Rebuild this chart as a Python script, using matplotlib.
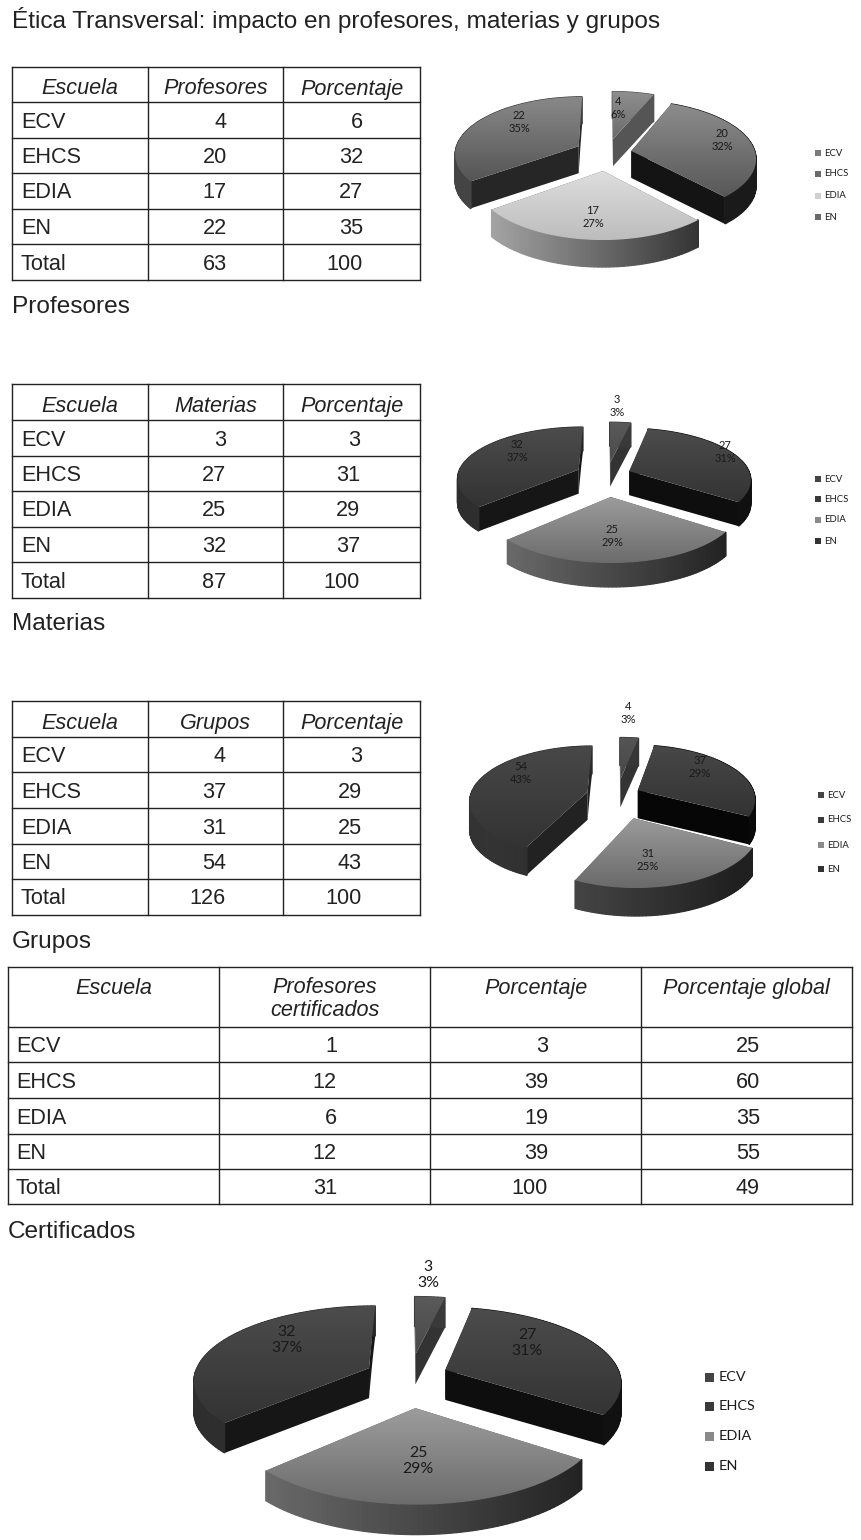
import numpy as np
import matplotlib
matplotlib.use("Agg")
import matplotlib.pyplot as plt
from matplotlib.colors import LinearSegmentedColormap, to_rgb
from matplotlib.patches import Polygon, Rectangle

W, H = 862, 1540

schools = ["ECV", "EHCS", "EDIA", "EN"]

profesores = [4, 20, 17, 22]
profesores_pct = [6, 32, 27, 35]
materias = [3, 27, 25, 32]
materias_pct = [3, 31, 29, 37]
grupos = [4, 37, 31, 54]
grupos_pct = [3, 29, 25, 43]
certificados = [1, 12, 6, 12]
certificados_pct = [3, 39, 19, 39]
certificados_global = [25, 60, 35, 55]
totals_prof = [63, 100]
totals_mat = [87, 100]
totals_gru = [126, 100]
totals_cert = [31, 100, 49]

# last pie repeats the materias numbers in the original
pie4_values = [3, 27, 25, 32]
pie4_pct = [3, 31, 29, 37]

TEXT = "#222222"
table_font = ["Liberation Sans", "DejaVu Sans"]
pie_font = ["Lato", "DejaVu Sans"]

fig = plt.figure(figsize=(W / 100, H / 100), dpi=100)
ax = fig.add_axes([0, 0, 1, 1])
helper = fig.add_axes([0, 0, 0.01, 0.01], visible=False)


def table(x_edges, y_edges, header, rows, right_edges, first_x, header_y=None):
    for x in x_edges:
        ax.plot([x, x], [y_edges[0], y_edges[-1]], color=TEXT, lw=1)
    for y in y_edges:
        ax.plot([x_edges[0], x_edges[-1]], [y, y], color=TEXT, lw=1)
    for i, h in enumerate(header):
        xc = (x_edges[i] + x_edges[i + 1]) / 2
        if "\n" in h:
            ax.text(xc, (y_edges[0] + y_edges[1]) / 2 + 2, h, ha="center", va="center",
                    style="italic", fontsize=15.6, family=table_font, color=TEXT, linespacing=1.15)
            continue
        yc = header_y if header_y else (y_edges[0] + y_edges[1]) / 2 + 2
        ax.text(xc, yc, h, ha="center", va="center_baseline", style="italic", fontsize=15.6,
                family=table_font, color=TEXT)
    for r, row in enumerate(rows):
        yc = (y_edges[r + 1] + y_edges[r + 2]) / 2 + 2
        ax.text(first_x, yc, row[0], ha="left", va="center", fontsize=15.6,
                family=table_font, color=TEXT)
        for j, v in enumerate(row[1:]):
            ax.text(right_edges[j], yc, str(v), ha="right", va="center", fontsize=15.6,
                    family=table_font, color=TEXT)


def caption(x, y, s):
    ax.text(x, y, s, ha="left", va="center", fontsize=17.6, family=table_font, color=TEXT)


def mix(c1, c2, t):
    a, b = np.array(to_rgb(c1)), np.array(to_rgb(c2))
    return tuple(a + (b - a) * t)


def pie3d(values, pct, cx, cy, rx, ry, k, depth, explode, tops, rims, faces,
          label_xy, font, legend_x, legend_ys, legend_cols, legend_font, box):
    wedges, _ = helper.pie(values, explode=explode, startangle=90, counterclock=False)

    def project(px, py):
        s = 1 - k * py
        return cx + rx * px * s, cy - ry * py * s

    # back to front: EN, ECV, EHCS, EDIA
    for i in [3, 0, 1, 2]:
        w = wedges[i]
        wx, wy = w.center
        th = np.radians(np.arange(w.theta1, w.theta2 + 0.5, 1.5))
        th = np.append(th, np.radians(w.theta2))
        ox = wx + w.r * np.cos(th)
        oy = wy + w.r * np.sin(th)
        sx, sy = project(ox, oy)
        ax_, ay_ = project(wx, wy)

        # straight cut faces
        for e in [0, -1]:
            t = np.linspace(0, 1, 12)
            ex, ey = project(wx + (ox[e] - wx) * t, wy + (oy[e] - wy) * t)
            pts = np.r_[np.c_[ex, ey], np.c_[ex, ey + depth][::-1]]
            ax.add_patch(Polygon(pts, closed=True, fc=faces[i], ec="none", zorder=2))

        # outer rim, shaded from left to right
        for j in range(len(th) - 1):
            t = np.clip((sx[j] - (cx - rx)) / (2 * rx), 0, 1)
            quad = [(sx[j], sy[j]), (sx[j + 1], sy[j + 1]),
                    (sx[j + 1], sy[j + 1] + depth), (sx[j], sy[j] + depth)]
            c = mix(rims[i][0], rims[i][1], t)
            ax.add_patch(Polygon(quad, closed=True, fc=c, ec=c, lw=0.9, zorder=2))

        # top surface with vertical gradient
        pts = np.r_[[[ax_, ay_]], np.c_[sx, sy]]
        clip = Polygon(pts, closed=True, fc="none", ec="none", transform=ax.transData)
        ax.add_patch(clip)
        cmap = LinearSegmentedColormap.from_list("t", tops[i])
        im = ax.imshow(np.linspace(0, 1, 64).reshape(-1, 1), cmap=cmap, aspect="auto",
                       extent=(pts[:, 0].min(), pts[:, 0].max(), pts[:, 1].max(), pts[:, 1].min()),
                       origin="upper", zorder=3, interpolation="bilinear")
        im.set_clip_path(clip)

    for i in range(4):
        ax.text(label_xy[i][0], label_xy[i][1], "%d\n%d%%" % (values[i], pct[i]), ha="center",
                va="center", fontsize=font, family=pie_font, color="#1a1a1a", zorder=5,
                linespacing=1.15)
        ax.add_patch(Rectangle((legend_x, legend_ys[i] - box / 2), box, box,
                               fc=legend_cols[i], ec="none", zorder=5))
        ax.text(legend_x + box * 1.5, legend_ys[i], schools[i], ha="left", va="center",
                fontsize=legend_font, family=pie_font, color="#1a1a1a")


caption(12, 20, "Ética Transversal: impacto en profesores, materias y grupos")

table([12, 148, 283, 420], [67, 102, 138, 173, 209, 244, 280],
      ["Escuela", "Profesores", "Porcentaje"],
      [[s, a, b] for s, a, b in zip(schools, profesores, profesores_pct)] + [["Total"] + totals_prof],
      [227, 363], 21)
caption(12, 307, "Profesores")

table([12, 148, 283, 420], [384, 420, 456, 491, 527, 562, 598],
      ["Escuela", "Materias", "Porcentaje"],
      [[s, a, b] for s, a, b in zip(schools, materias, materias_pct)] + [["Total"] + totals_mat],
      [226, 360], 21)
caption(12, 624, "Materias")

table([12, 148, 283, 420], [701, 737, 772, 808, 844, 879, 915],
      ["Escuela", "Grupos", "Porcentaje"],
      [[s, a, b] for s, a, b in zip(schools, grupos, grupos_pct)] + [["Total"] + totals_gru],
      [226, 362], 21)
caption(12, 942, "Grupos")

table([8, 219, 430, 641, 852], [967, 1027, 1062, 1098, 1134, 1169, 1204],
      ["Escuela", "Profesores\ncertificados", "Porcentaje", "Porcentaje global"],
      [[s, a, b, c] for s, a, b, c in zip(schools, certificados, certificados_pct, certificados_global)]
      + [["Total"] + totals_cert],
      [337, 548, 760], 16, header_y=986)
caption(8, 1232, "Certificados")

pie3d(profesores, profesores_pct, 607, 153, 124, 58, 0.12, 27, [0.25, 0.2, 0.3, 0.26],
      [["#8e8e8e", "#6c6c6c"], ["#8c8c8c", "#585858"], ["#dedede", "#bdbdbd"], ["#888888", "#555555"]],
      [["#555555", "#555555"], ["#1a1a1a", "#1a1a1a"], ["#a8a8a8", "#222222"], ["#444444", "#333333"]],
      ["#555555", "#141414", "#555555", "#262626"],
      [(618, 108), (722, 140), (593, 217), (519, 122)], 8,
      815, [153, 174, 196, 217], ["#7a7a7a", "#6a6a6a", "#d0d0d0", "#6a6a6a"], 6.8, 6)

pie3d(materias, materias_pct, 607, 475, 121, 52, 0.15, 24, [0.25, 0.2, 0.4, 0.26],
      [["#5a5a5a", "#4a4a4a"], ["#4c4c4c", "#343434"], ["#9c9c9c", "#6c6c6c"], ["#4c4c4c", "#333333"]],
      [["#444444", "#333333"], ["#111111", "#111111"], ["#707070", "#222222"], ["#2e2e2e", "#1e1e1e"]],
      ["#333333", "#0e0e0e", "#444444", "#161616"],
      [(617, 406), (725, 452), (612, 536), (517, 451)], 8,
      815, [479, 499, 520, 541], ["#444444", "#3a3a3a", "#8a8a8a", "#333333"], 6.8, 6)

pie3d(grupos, grupos_pct, 617, 795, 117, 55, 0.15, 28, [0.3, 0.2, 0.42, 0.26],
      [["#555555", "#484848"], ["#484848", "#333333"], ["#9a9a9a", "#6a6a6a"], ["#484848", "#333333"]],
      [["#3c3c3c", "#333333"], ["#0a0a0a", "#0a0a0a"], ["#555555", "#202020"], ["#333333", "#1a1a1a"]],
      ["#333333", "#060606", "#444444", "#222222"],
      [(628, 713), (700, 767), (648, 860), (521, 773)], 8.2,
      818, [795, 820, 845, 869], ["#444444", "#3a3a3a", "#8a8a8a", "#333333"], 6.8, 6)

pie3d(pie4_values, pie4_pct, 410, 1376, 175, 76, 0.15, 30, [0.3, 0.22, 0.4, 0.26],
      [["#5a5a5a", "#4a4a4a"], ["#4c4c4c", "#343434"], ["#9c9c9c", "#6c6c6c"], ["#4c4c4c", "#333333"]],
      [["#444444", "#333333"], ["#111111", "#111111"], ["#707070", "#222222"], ["#2e2e2e", "#1a1a1a"]],
      ["#333333", "#0e0e0e", "#444444", "#161616"],
      [(428, 1275), (527, 1343), (418, 1461), (287, 1340)], 11.4,
      705, [1377, 1406, 1436, 1466], ["#444444", "#3a3a3a", "#8a8a8a", "#333333"], 10.4, 9)

ax.set_xlim(0, W)
ax.set_ylim(H, 0)
ax.axis("off")
fig.savefig("out.png", dpi=100, facecolor="white")
